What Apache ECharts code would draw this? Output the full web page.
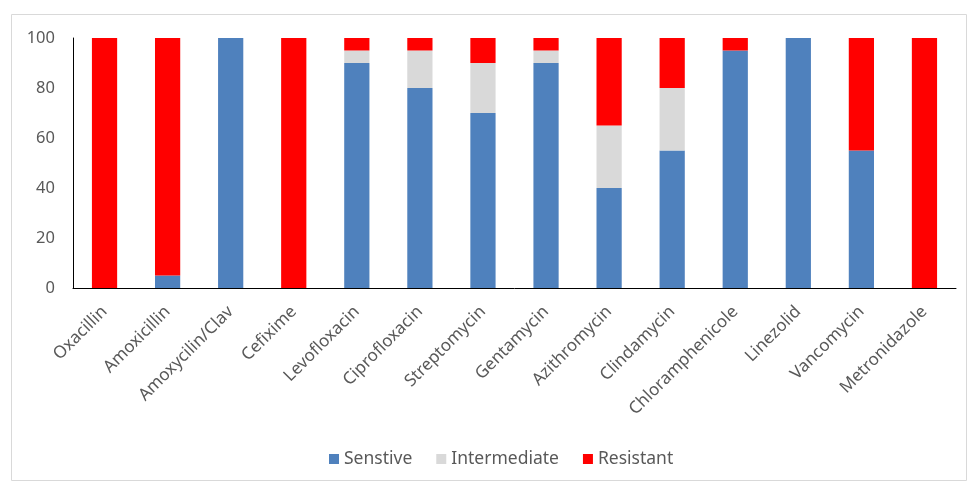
<!DOCTYPE html>
<html><head><meta charset="utf-8">
<script src="https://cdn.jsdelivr.net/npm/echarts@6/dist/echarts.min.js"></script>
<style>html,body{margin:0;padding:0;background:#fff}#c{width:968px;height:483px}</style>
</head><body><div id="c"></div>
<script>
const categories = ["Oxacillin","Amoxicillin","Amoxycilin/Clav","Cefixime","Levofloxacin","Ciprofloxacin","Streptomycin","Gentamycin","Azithromycin","Clindamycin","Chloramphenicole","Linezolid","Vancomycin","Metronidazole"];
const sensitive    = [0, 5, 100, 0, 90, 80, 70, 90, 40, 55, 95, 100, 55, 0];
const intermediate = [0, 0, 0, 0, 5, 15, 20, 5, 25, 25, 0, 0, 0, 0];
const resistant    = [100, 95, 0, 100, 5, 5, 10, 5, 35, 20, 5, 0, 45, 100];
const yTicks = [0, 20, 40, 60, 80, 100];

const font = "'Noto Sans', 'Open Sans', sans-serif";
const chart = echarts.init(document.getElementById('c'));
const mk = (name, data, color) => ({name, type:'bar', stack:'a', data, barWidth:'40%', itemStyle:{color}, emphasis:{disabled:true}});
chart.setOption({
  animation:false,
  graphic:[{type:'rect', shape:{x:11.5, y:14.5, width:955, height:466}, style:{fill:'none', stroke:'#d9d9d9', lineWidth:1}, silent:true}],
  grid:{left:73, right:12, top:38, bottom:195, containLabel:false},
  legend:{top:445, left:324, itemWidth:10, itemHeight:10, itemGap:24, icon:'rect',
    textStyle:{fontFamily:font, fontSize:17.5, color:'#595959'},
    data:['Senstive','Intermediate','Resistant']},
  xAxis:{type:'category', data:categories,
    axisLine:{lineStyle:{color:'#000', width:1}}, axisTick:{show:false},
    axisLabel:{rotate:45, interval:0, hideOverlap:false, fontFamily:font, fontSize:17, color:'#595959', margin:21}},
  yAxis:{type:'value', min:yTicks[0], max:yTicks[yTicks.length-1], interval:20,
    axisLine:{show:true, lineStyle:{color:'#000', width:1}}, axisTick:{show:false}, splitLine:{show:false},
    axisLabel:{fontFamily:font, fontSize:16.5, color:'#595959', margin:18}},
  series:[mk('Senstive', sensitive, '#4f81bd'), mk('Intermediate', intermediate, '#d9d9d9'), mk('Resistant', resistant, '#ff0000')]
});
</script></body></html>
